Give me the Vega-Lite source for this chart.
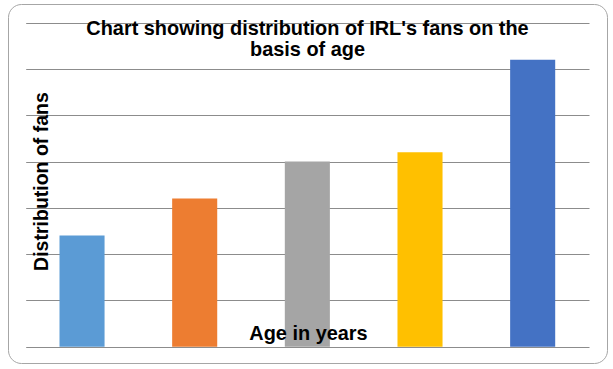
{
  "$schema": "https://vega.github.io/schema/vega-lite/v6.json",
  "autosize": {"type": "none"},
  "width": 599,
  "height": 359,
  "padding": {"left": 8, "top": 4, "right": 6, "bottom": 6},
  "background": "white",
  "title": {
    "text": ["Chart showing distribution of IRL's fans on the", "basis of age"],
    "anchor": "middle",
    "frame": "group",
    "orient": "top",
    "baseline": "alphabetic",
    "offset": -72,
    "lineHeight": 21.6,
    "font": "Liberation Sans",
    "fontSize": 19.9,
    "fontWeight": "bold",
    "color": "#000000"
  },
  "data": {
    "values": [
      {"age": "Under 20", "fans": 12},
      {"age": "20-29", "fans": 16},
      {"age": "30-39", "fans": 20},
      {"age": "40-49", "fans": 21},
      {"age": "50+", "fans": 31}
    ]
  },
  "mark": {"type": "bar"},
  "encoding": {
    "x": {
      "field": "age",
      "type": "nominal",
      "sort": null,
      "scale": {"range": [17.7, 581], "paddingInner": 0.6, "paddingOuter": 0.3},
      "axis": {
        "title": "Age in years",
        "zindex": 1,
        "labels": false,
        "ticks": false,
        "domain": false,
        "grid": false,
        "titleFont": "Liberation Sans",
        "titleFontSize": 19.9,
        "titleFontWeight": "bold",
        "titleColor": "#000000",
        "titleX": 300,
        "titleY": -23.5,
        "titleAlign": "center",
        "titleBaseline": "alphabetic"
      }
    },
    "y": {
      "field": "fans",
      "type": "quantitative",
      "scale": {"domain": [0, 35], "range": [342.7, 18.7], "nice": false, "zero": true},
      "axis": {
        "title": "Distribution of fans",
        "values": [0, 5, 10, 15, 20, 25, 30, 35],
        "labels": false,
        "ticks": false,
        "domain": false,
        "grid": true,
        "gridColor": "#8c8c8c",
        "gridWidth": 1,
        "gridOpacity": 1,
        "titleFont": "Liberation Sans",
        "titleFontSize": 19.5,
        "titleFontWeight": "bold",
        "titleColor": "#000000",
        "titleAngle": 270,
        "titleX": 39.7,
        "titleY": 177,
        "titleAlign": "center",
        "titleBaseline": "alphabetic"
      }
    },
    "color": {
      "field": "age",
      "type": "nominal",
      "sort": null,
      "scale": {"range": ["#5b9bd5", "#ed7d31", "#a5a5a5", "#ffc000", "#4472c4"]},
      "legend": null
    }
  },
  "config": {
    "view": {"stroke": "#a6a6a6", "strokeWidth": 1, "cornerRadius": 13, "fill": "white"}
  }
}
